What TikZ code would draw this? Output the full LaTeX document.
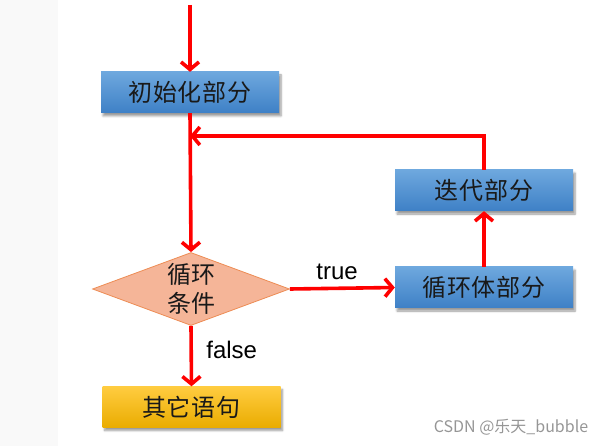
\documentclass[tikz,border=0pt]{standalone}
\usepackage{fontspec}
\setmainfont{Liberation Sans}
\newfontfamily\cjk{Noto Sans CJK SC}
\newfontfamily\cjkwide[LetterSpace=4]{Noto Sans CJK SC}
\usetikzlibrary{shapes.geometric,arrows.meta,shadows,shadows.blur}
\definecolor{bluetop}{RGB}{110,168,222}
\definecolor{bluebot}{RGB}{62,128,198}
\definecolor{yeltop}{RGB}{255,204,64}
\definecolor{yelbot}{RGB}{234,172,0}
\definecolor{dfill}{RGB}{245,181,152}
\definecolor{ddraw}{RGB}{237,140,84}
\definecolor{leftgray}{RGB}{249,249,249}
\definecolor{wmgray}{RGB}{150,150,150}
\tikzset{
  boxbase/.style={rectangle, minimum width=178pt, minimum height=41pt, inner sep=0pt,
    font=\cjkwide\fontsize{24}{27}\selectfont, text=black!90,
    blur shadow={shadow xshift=2pt, shadow yshift=-3pt, shadow blur steps=6, shadow opacity=40}},
  bluebox/.style={boxbase, top color=bluetop, bottom color=bluebot},
  yelbox/.style={boxbase, top color=yeltop, bottom color=yelbot},
  decision/.style={diamond, minimum width=197pt, minimum height=73pt, inner sep=0pt,
    fill=dfill, draw=ddraw, line width=0.8pt},
  dtext/.style={font=\cjk\fontsize{24}{29}\selectfont, align=center, text=black!90},
  arr/.style={draw=red, line width=3.6pt, -{Straight Barb[length=7.5pt,width=18pt]}},
  lbl/.style={font=\fontsize{24}{28}\selectfont, text=black}
}
\begin{document}
\begin{tikzpicture}[x=1pt,y=-1pt]
\useasboundingbox (0,0) rectangle (614,446);
\fill[leftgray] (0,0) rectangle (58,446);
\node[bluebox] (init) at (190,92.5) {初始化部分};
\node[bluebox] (iter) at (484,190.5) {迭代部分};
\node[bluebox] (body) at (484,287.5) {循环体部分};
\node[decision] (cond) at (191,289) {};
\node[dtext] (condtext) at (cond.center) {循环\\条件};
\node[yelbox] (other) at (191.5,407) {其它语句};
\coordinate (start) at (190,5);
\coordinate (j) at (190,136);
\draw[arr] (start) -- (init.north);
\draw[arr] (init.south) -- (cond.north);
\draw[arr] (cond.east) -- node[lbl, above=3pt, pos=0.45] (tl) {true} (body.west);
\draw[arr] (cond.south) -- node[lbl, right=10pt, pos=0.4] (fl) {false} (other.north);
\draw[arr] (body.north) -- (iter.south);
\draw[arr] (iter.north) |- (j);
\node[font=\cjk\fontsize{16}{18}\selectfont, text=wmgray] (wm) at (511,427) {CSDN @乐天\_bubble};
\end{tikzpicture}
\end{document}
